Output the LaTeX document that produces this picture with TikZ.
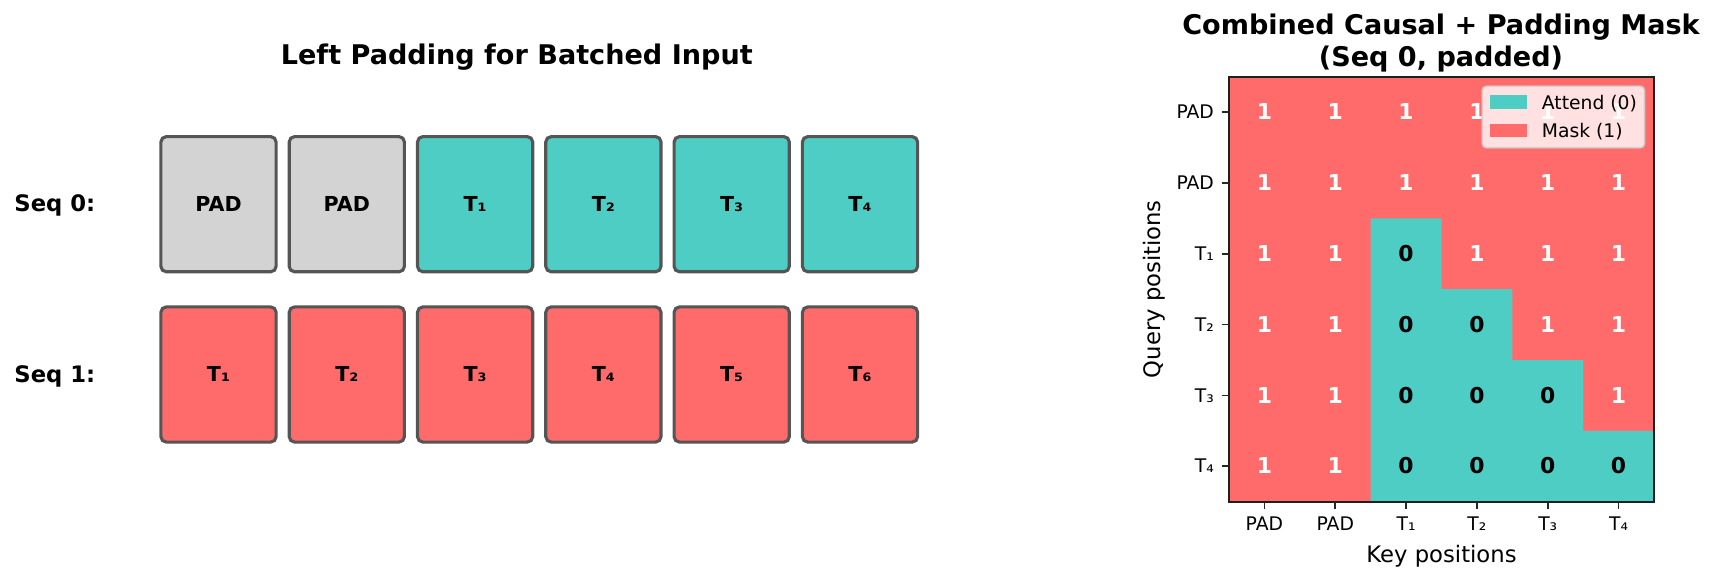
\documentclass[tikz,border=0pt]{standalone}
\usepackage{fontspec}
\setmainfont{DejaVu Sans}
\definecolor{teal4}{HTML}{4ECDC4}
\definecolor{red6}{HTML}{FF6B6B}
\definecolor{padgray}{HTML}{D3D3D3}
\definecolor{edgegray}{HTML}{555555}
\begin{document}
\begin{tikzpicture}[x=0.48pt,y=-0.48pt,
  tokbox/.style={draw=edgegray, line width=1.5pt, rounded corners=2.6pt, minimum width=55.3pt, minimum height=64.9pt, inner sep=0pt},
  toklbl/.style={font=\fontsize{9.9}{12}\selectfont\bfseries, inner sep=0pt, anchor=base},
  seqlbl/.style={font=\fontsize{10.9}{13}\selectfont\bfseries, inner sep=0pt, anchor=base west},
  ttl/.style={font=\fontsize{13}{15}\selectfont\bfseries, inner sep=0pt, anchor=base},
  ticklbl/.style={font=\fontsize{9}{11}\selectfont, inner sep=0pt},
  axlbl/.style={font=\fontsize{10.9}{13}\selectfont, inner sep=0pt, anchor=base},
  num/.style={font=\fontsize{10.5}{12}\selectfont\bfseries, inner sep=0pt, anchor=base},
  tickmark/.style={line width=0.8pt, black!85},
  legtxt/.style={font=\fontsize{9}{11}\selectfont, inner sep=0pt, anchor=base west},
]
\useasboundingbox (0,0) rectangle (1715,582);

% ---------- left panel ----------
\node[ttl] (ltitle) at (516.8,65) {Left Padding for Batched Input};
\node[seqlbl] (seq0) at (14,211.7) {Seq 0:};
\node[seqlbl] (seq1) at (14,382.3) {Seq 1:};

\foreach \k/\t/\c in {0/PAD/padgray,1/PAD/padgray,2/T₁/teal4,3/T₂/teal4,4/T₃/teal4,5/T₄/teal4} {
  \node[tokbox, fill=\c] (a\k) at ({218.5+128.3*\k},204.2) {};
  \node[toklbl] (at\k) at ({218.5+128.3*\k},211.7) {\t};
}
\foreach \k/\t in {0/T₁,1/T₂,2/T₃,3/T₄,4/T₅,5/T₆} {
  \node[tokbox, fill=red6] (b\k) at ({218.5+128.3*\k},374.5) {};
  \node[toklbl] (bt\k) at ({218.5+128.3*\k},382.0) {\t};
}

% ---------- right panel: mask heatmap ----------
\node[ttl] (rtitle1) at (1441,34.6) {Combined Causal + Padding Mask};
\node[ttl] (rtitle2) at (1441,66.4) {(Seq 0, padded)};

\node[fill=red6, inner sep=0pt, minimum size=204pt, anchor=north west] (hm) at (1229,76.7) {};
\fill[teal4] (1370.67,218.37) -- (1441.5,218.37) -- (1441.5,289.2) -- (1512.33,289.2)
  -- (1512.33,360.03) -- (1583.17,360.03) -- (1583.17,430.87) -- (1654,430.87)
  -- (1654,501.7) -- (1370.67,501.7) -- cycle;

\foreach \i in {0,...,5} {
  \foreach \j in {0,...,5} {
    \pgfmathtruncatemacro\v{(\i>=2)*(\j>=2)*(\j<=\i)}
    \ifnum\v=1
      \node[num, text=black] (n\i\j) at ({1264.42+70.833*\j},{112.12+70.833*\i+7.6}) {0};
    \else
      \node[num, text=white] (n\i\j) at ({1264.42+70.833*\j},{112.12+70.833*\i+7.6}) {1};
    \fi
  }
}

\draw[line width=0.8pt, black!88] (1229,76.7) rectangle (1654,501.7);

\foreach \k/\t in {0/PAD,1/PAD,2/T₁,3/T₂,4/T₃,5/T₄} {
  \draw[tickmark] ({1264.42+70.833*\k},501.7) -- ({1264.42+70.833*\k},509);
  \node[ticklbl, anchor=base] (xt\k) at ({1264.42+70.833*\k},531) {\t};
  \draw[tickmark] (1221.7,{112.12+70.833*\k}) -- (1229,{112.12+70.833*\k});
  \node[ticklbl, anchor=base east] (yt\k) at (1214.3,{112.12+70.833*\k+6.6}) {\t};
}

\node[axlbl] (xlab) at (1441.5,562.7) {Key positions};
\node[axlbl, rotate=90] (ylab) at (1160.5,289.2) {Query positions};

% legend
\node[fill=white, fill opacity=0.8, draw=black!20, draw opacity=0.8, line width=0.8pt,
      rounded corners=2pt, minimum width=77.9pt, minimum height=29.6pt, inner sep=0pt] (leg) at (1563.4,117) {};
\node[fill=teal4, minimum width=18pt, minimum height=6.4pt, inner sep=0pt] (lp0) at (1508.5,102) {};
\node[fill=red6, minimum width=18pt, minimum height=6.4pt, inner sep=0pt] (lp1) at (1508.5,130.5) {};
\node[legtxt] (lt0) at (1541.5,110) {Attend (0)};
\node[legtxt] (lt1) at (1541.5,137.3) {Mask (1)};
\end{tikzpicture}
\end{document}
